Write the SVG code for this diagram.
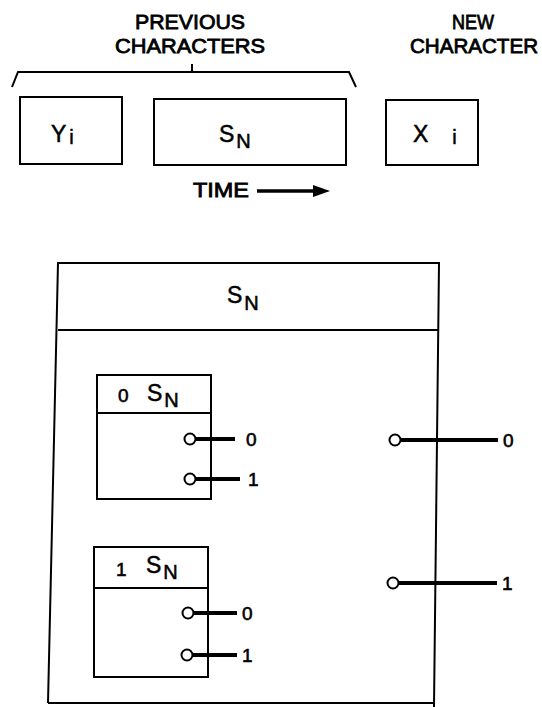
<svg xmlns="http://www.w3.org/2000/svg" width="542" height="707" viewBox="0 0 542 707">
<style>
.t{font-family:"Liberation Sans","DejaVu Sans",sans-serif;fill:#000}
.cap{font-size:20px;stroke:#000;stroke-width:0.8;text-anchor:middle}
.big{font-size:23px;stroke:#000;stroke-width:0.5}
.sub{font-size:20px}
.dig{font-size:19px;stroke:#000;stroke-width:0.6}
.box{fill:none;stroke:#000;stroke-width:2}
.pin{fill:#fff;stroke:#000;stroke-width:2}
.wire{stroke:#000;stroke-width:4;fill:none}
</style>
<rect width="542" height="707" fill="#fff"/>
<g id="labels">
<text class="t cap" x="190" y="29" textLength="110" lengthAdjust="spacingAndGlyphs">PREVIOUS</text>
<text class="t cap" x="190" y="53" textLength="150" lengthAdjust="spacingAndGlyphs">CHARACTERS</text>
<text class="t cap" x="473" y="29" textLength="42" lengthAdjust="spacingAndGlyphs">NEW</text>
<text class="t cap" x="474" y="53" textLength="128" lengthAdjust="spacingAndGlyphs">CHARACTER</text>
<path class="box" d="M12,87 L18,72 L349,72 L356,87 M192,64 L192,72"/>
</g>
<g id="yi">
<rect class="box" x="20" y="97" width="102" height="67"/>
<text class="t big" x="51" y="142">Y<tspan font-size="20" dx="3" dy="2">i</tspan></text>
</g>
<g id="sn-top">
<rect class="box" x="154" y="99" width="192" height="66"/>
<text class="t big" x="219" y="142">S<tspan class="sub" dy="6" dx="2">N</tspan></text>
</g>
<g id="xi">
<rect class="box" x="386" y="100" width="92" height="65"/>
<text class="t big" x="413" y="142">X<tspan font-size="20" dx="24" dy="2">i</tspan></text>
</g>
<g id="time">
<text class="t cap" style="text-anchor:start" font-size="19" x="193" y="197" textLength="56" lengthAdjust="spacingAndGlyphs">TIME</text>
<path d="M257,191 L318,191" stroke="#000" stroke-width="3.5"/>
<path d="M313,185 L330,191 L313,197 Z" fill="#000"/>
</g>
<g id="sn-big">
<path class="box" d="M48,703 L58,263 L439,263 L434,707 M58,330 L439,330 M48,703 L435,703"/>
<text class="t big" x="227" y="303">S<tspan class="sub" dy="7" dx="2">N</tspan></text>
</g>
<g id="node0">
<rect class="box" x="97" y="375" width="114" height="124"/>
<line class="box" x1="97" y1="413" x2="211" y2="413"/>
<text class="t dig" x="118" y="402" font-size="15">0</text>
<text class="t big" x="147" y="401">S<tspan class="sub" dy="6" dx="2">N</tspan></text>
</g>
<g id="node1">
<rect class="box" x="94" y="547" width="114" height="130"/>
<line class="box" x1="94" y1="588" x2="208" y2="588"/>
<text class="t dig" x="116" y="576" font-size="15">1</text>
<text class="t big" x="146" y="573">S<tspan class="sub" dy="6" dx="2">N</tspan></text>
</g>
<g id="connectors">
<line class="wire" x1="195" y1="439" x2="235" y2="439"/>
<line class="wire" x1="195" y1="479" x2="240" y2="479"/>
<line class="wire" x1="193" y1="613" x2="237" y2="613"/>
<line class="wire" x1="192" y1="655" x2="237" y2="655"/>
<line class="wire" x1="400" y1="440" x2="498" y2="440"/>
<line class="wire" x1="398" y1="583" x2="497" y2="583"/>
<circle class="pin" cx="190" cy="439" r="5.5"/>
<circle class="pin" cx="190" cy="479" r="5.5"/>
<circle class="pin" cx="188" cy="613" r="5.5"/>
<circle class="pin" cx="187" cy="655" r="5.5"/>
<circle class="pin" cx="395" cy="440" r="5.5"/>
<circle class="pin" cx="393" cy="583" r="5.5"/>
<text class="t dig" x="246" y="446">0</text>
<text class="t dig" x="248" y="486">1</text>
<text class="t dig" x="242" y="620">0</text>
<text class="t dig" x="242" y="662">1</text>
<text class="t dig" x="503" y="447">0</text>
<text class="t dig" x="502" y="590">1</text>
</g>
</svg>
